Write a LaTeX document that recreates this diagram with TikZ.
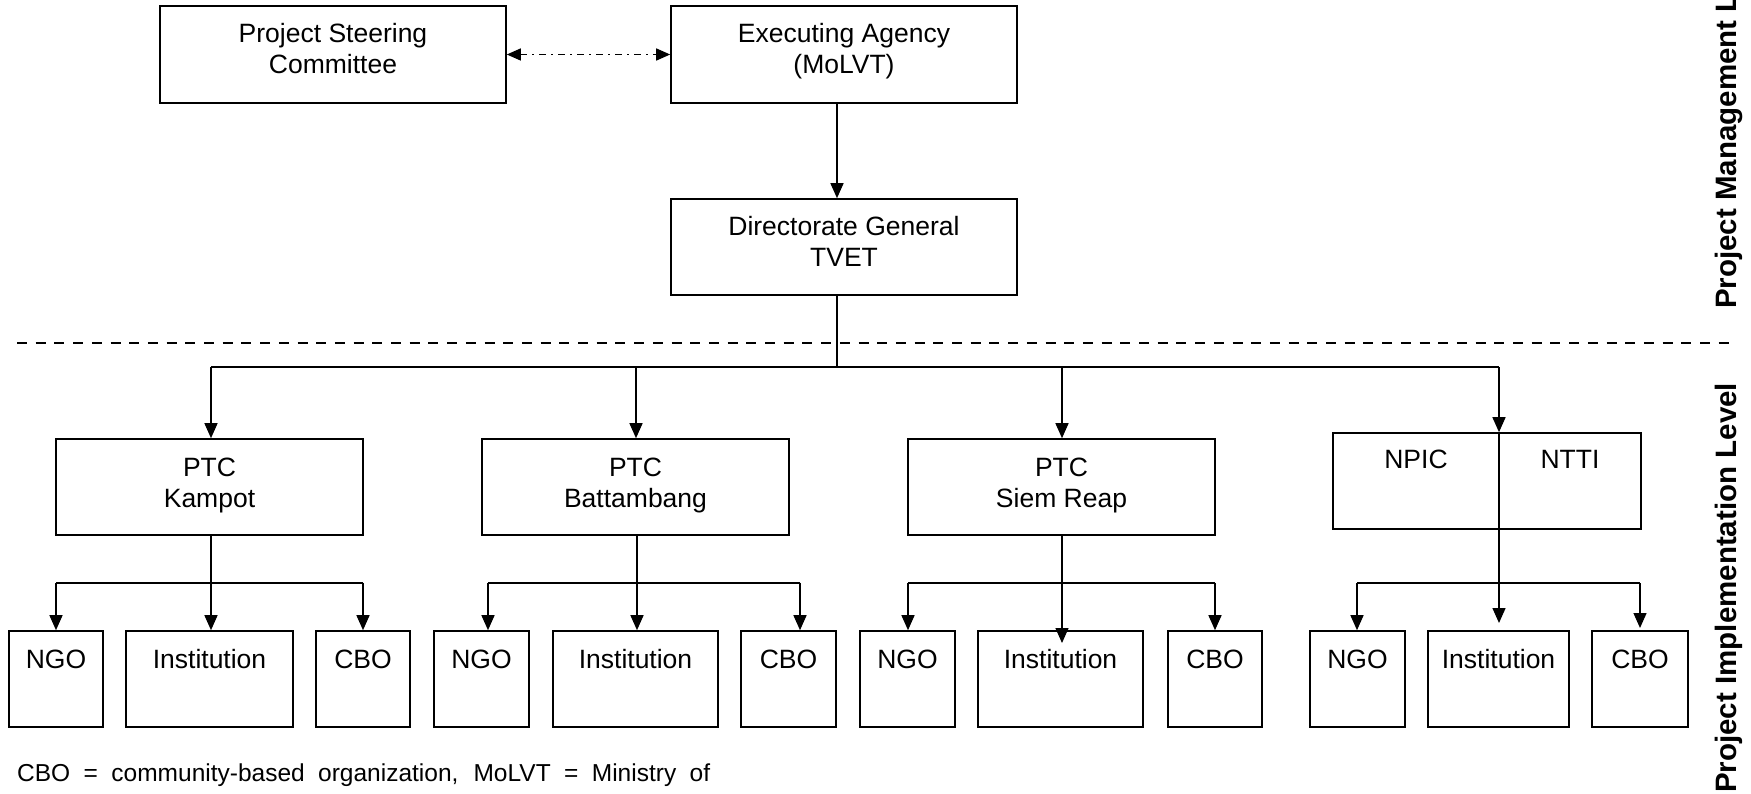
\documentclass[tikz,border=0pt]{standalone}
\usepackage{fontspec}
\setmainfont{Liberation Sans}
\usetikzlibrary{arrows.meta}
\newcommand\bt[3]{\parbox[c][#2pt][t]{#1pt}{\centering\rule{0pt}{37pt}#3}}
\tikzset{
  box/.style={draw, line width=1.6pt, inner sep=0pt, font=\fontsize{26.5}{31}\selectfont},
  conn/.style={line width=1.4pt},
  arr/.style={conn, -{Triangle[length=15pt,width=13pt]}},
  bus/.style={line width=2pt},
  side/.style={rotate=90, anchor=base west, inner sep=0pt, font=\fontsize{29.5}{34}\selectfont\bfseries},
}
\begin{document}
\begin{tikzpicture}[x=1pt, y=-1pt]
\useasboundingbox (0,0) rectangle (1751,794);
% management level
\node[box] (psc) at (333,54.5) {\bt{346}{97}{Project Steering\\Committee}};
\node[box] (ea) at (844,54.5) {\bt{346}{97}{Executing Agency\\(MoLVT)}};
\node[box] (dg) at (844,247) {\bt{346}{96}{Directorate General\\TVET}};
\draw[line width=1.4pt, dash pattern=on 7pt off 5pt on 2pt off 5pt,
      {Triangle[length=14pt,width=12pt]}-{Triangle[length=14pt,width=12pt]}] (psc.east) -- (ea.west);
\coordinate (eaout) at (837,103);
\draw[arr] (eaout) -- (eaout |- dg.north);
% separator
\coordinate (sepL) at (17,343);
\coordinate (sepR) at (1737,343);
\draw[line width=2.6pt, dash pattern=on 10pt off 8.7pt] (sepL) -- (sepR);
% implementation level
\node[box] (kam) at (209.5,487) {\bt{307}{96}{PTC\\Kampot}};
\node[box] (bat) at (635.5,487) {\bt{307}{96}{PTC\\Battambang}};
\node[box] (sie) at (1061.5,487) {\bt{307}{96}{PTC\\Siem Reap}};
\node[box] (npi) at (1487,481) {\parbox[c][96pt][t]{308pt}{\rule{0pt}{35pt}\makebox[166pt]{NPIC}\makebox[142pt]{NTTI}}};
% bottom row
\node[box] (kngo) at (56,679) {\bt{94}{96}{NGO}};
\node[box] (kins) at (209.5,679) {\bt{167}{96}{Institution}};
\node[box] (kcbo) at (363,679) {\bt{94}{96}{CBO}};
\node[box] (bngo) at (481.5,679) {\bt{95}{96}{NGO}};
\node[box] (bins) at (635.5,679) {\bt{165}{96}{Institution}};
\node[box] (bcbo) at (788.5,679) {\bt{95}{96}{CBO}};
\node[box] (sngo) at (907.5,679) {\bt{95}{96}{NGO}};
\node[box] (sins) at (1060.5,679) {\bt{165}{96}{Institution}};
\node[box] (scbo) at (1215,679) {\bt{94}{96}{CBO}};
\node[box] (nngo) at (1357.5,679) {\bt{95}{96}{NGO}};
\node[box] (nins) at (1498.5,679) {\bt{141}{96}{Institution}};
\node[box] (ncbo) at (1640,679) {\bt{96}{96}{CBO}};
% main bus
\coordinate (b0) at (837,367);
\coordinate (b1) at (211,367);
\coordinate (b2) at (636,367);
\coordinate (b3) at (1062,367);
\coordinate (b4) at (1499,367);
\draw[conn] (dg.south -| b0) -- (b0);
\draw[bus] (b1) -- (b4);
\draw[arr] (b1) -- (b1 |- kam.north);
\draw[arr] (b2) -- (b2 |- bat.north);
\draw[arr] (b3) -- (b3 |- sie.north);
% Kampot group
\coordinate (kL) at (56,582.5);
\coordinate (kR) at (363,582.5);
\draw[bus] (kL) -- (kR);
\draw[arr] (b1 |- kam.south) -- (b1 |- kins.north);
\draw[arr] (kL) -- (kL |- kngo.north);
\draw[arr] (kR) -- (kR |- kcbo.north);
% Battambang group
\coordinate (bL) at (488,582.5);
\coordinate (bR) at (800,582.5);
\coordinate (bT) at (637,535);
\draw[bus] (bL) -- (bR);
\draw[arr] (bT) -- (bT |- bins.north);
\draw[arr] (bL) -- (bL |- bngo.north);
\draw[arr] (bR) -- (bR |- bcbo.north);
% Siem Reap group
\coordinate (sL) at (908,582.5);
\coordinate (sR) at (1215,582.5);
\coordinate (sI) at (1062,643);
\draw[bus] (sL) -- (sR);
\draw[arr] (b3 |- sie.south) -- (sI);
\draw[arr] (sL) -- (sL |- sngo.north);
\draw[arr] (sR) -- (sR |- scbo.north);
% NPIC / NTTI group
\coordinate (nL) at (1357,583);
\coordinate (nR) at (1640,583);
\coordinate (nI) at (1499,623);
\coordinate (nC) at (1640,628);
\draw[bus] (nL) -- (nR);
\draw[arr] (b4 |- npi.north) -- (nI);
\draw[arr] (b4) -- (b4 |- npi.north);
\draw[arr] (nL) -- (nL |- nngo.north);
\draw[arr] (nR) -- (nC);
% side labels
\node[side] (pml) at (1736,309) {Project Management Level};
\node[side] (pil) at (1736,793) {Project Implementation Level};
% footer
\node[anchor=base west, inner sep=0pt, font=\fontsize{24.5}{29}\selectfont] (note) at (17,781)
  {\makebox[693pt][s]{CBO = community-based organization, MoLVT = Ministry of}};
\end{tikzpicture}
\end{document}
